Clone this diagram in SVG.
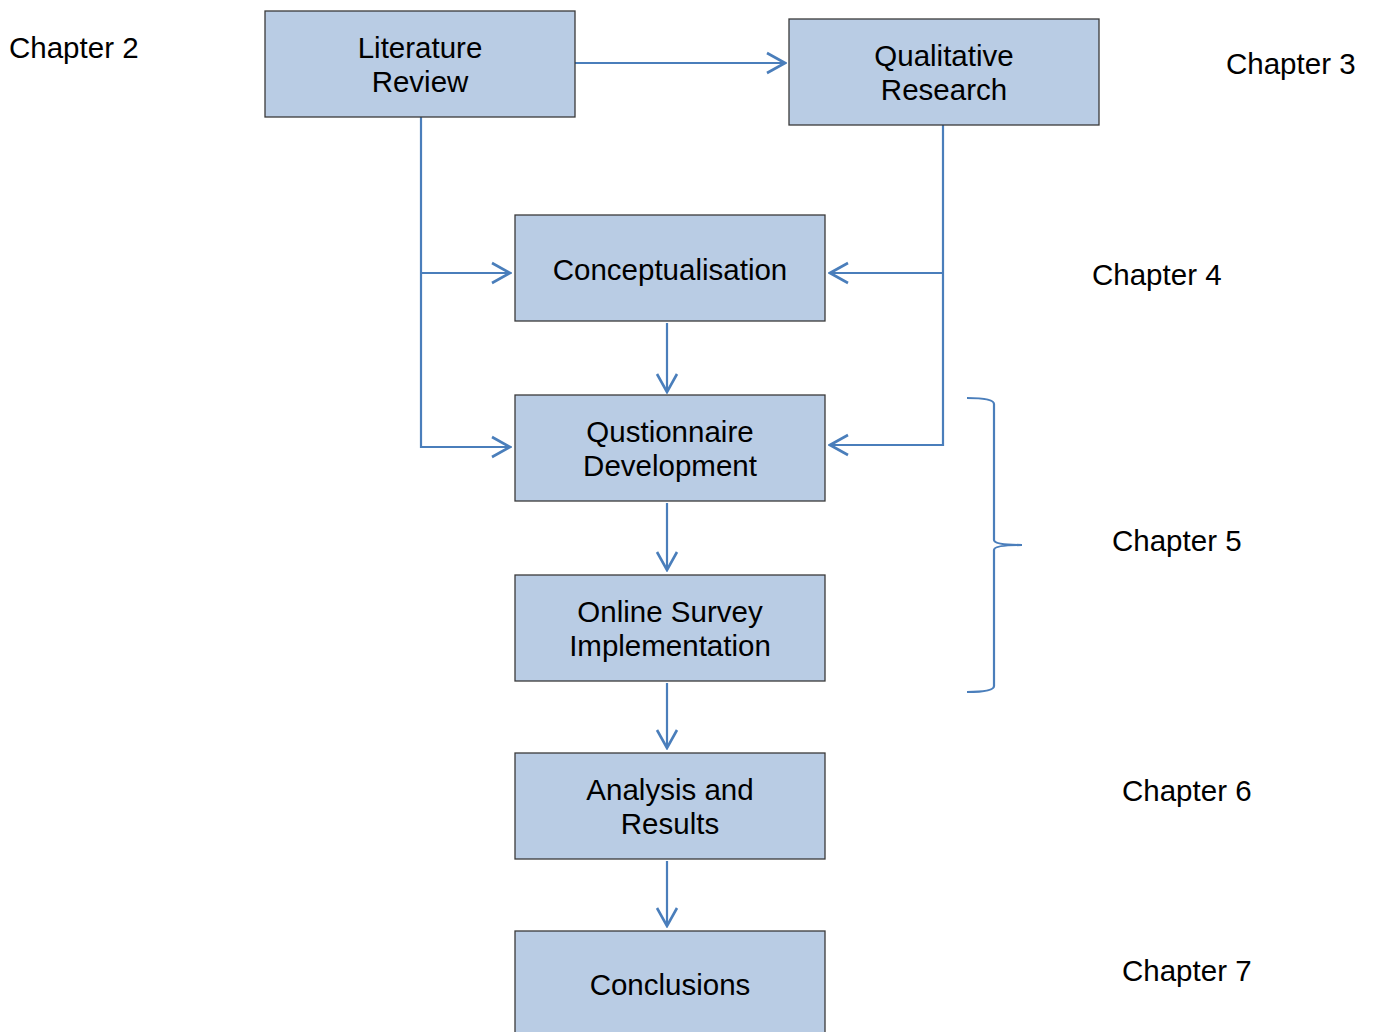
<svg xmlns="http://www.w3.org/2000/svg" width="1375" height="1032" viewBox="0 0 1375 1032">
  <style>
    .box { fill: #b9cce4; stroke: #3a3a3a; stroke-width: 1.3; }
    .lbl { font-family: "Liberation Sans", Arial, sans-serif; font-size: 29.5px; fill: #000; text-anchor: middle; }
    .ch { font-family: "Liberation Sans", Arial, sans-serif; font-size: 29.5px; fill: #000; }
    .wire { fill: none; stroke: #4a7ebb; stroke-width: 2.2; }
  </style>
  <defs>
    <marker id="open" markerWidth="22" markerHeight="24" viewBox="0 0 22 24" refX="20" refY="12" orient="auto" markerUnits="userSpaceOnUse">
      <path d="M2,2 L20,12 L2,22" fill="none" stroke="#4a7ebb" stroke-width="2.6"/>
    </marker>
  </defs>
  <rect width="1375" height="1032" fill="#fff"/>

  <g id="connectors">
    <path class="wire" d="M575,63 H785" marker-end="url(#open)"/>
    <path class="wire" d="M421,117 V447 H510" marker-end="url(#open)"/>
    <path class="wire" d="M421,273 H510" marker-end="url(#open)"/>
    <path class="wire" d="M943,125 V445 H830" marker-end="url(#open)"/>
    <path class="wire" d="M943,273 H830" marker-end="url(#open)"/>
    <path class="wire" d="M667,323 V392" marker-end="url(#open)"/>
    <path class="wire" d="M667,503 V570" marker-end="url(#open)"/>
    <path class="wire" d="M667,683 V748" marker-end="url(#open)"/>
    <path class="wire" d="M667,861 V926" marker-end="url(#open)"/>
    <path id="brace" class="wire" d="M967,398 Q994,398 994,404 V540 Q994,545 1022,545 Q994,545 994,550 V686 Q994,692 967,692"/>
  </g>

  <g id="literature-review">
    <rect class="box" x="265" y="11" width="310" height="106"/>
    <text class="lbl" x="420" y="58">Literature</text>
    <text class="lbl" x="420" y="92">Review</text>
  </g>
  <g id="qualitative-research">
    <rect class="box" x="789" y="19" width="310" height="106"/>
    <text class="lbl" x="944" y="66">Qualitative</text>
    <text class="lbl" x="944" y="100">Research</text>
  </g>
  <g id="conceptualisation">
    <rect class="box" x="515" y="215" width="310" height="106"/>
    <text class="lbl" x="670" y="280">Conceptualisation</text>
  </g>
  <g id="questionnaire-development">
    <rect class="box" x="515" y="395" width="310" height="106"/>
    <text class="lbl" x="670" y="442">Qustionnaire</text>
    <text class="lbl" x="670" y="476">Development</text>
  </g>
  <g id="online-survey">
    <rect class="box" x="515" y="575" width="310" height="106"/>
    <text class="lbl" x="670" y="622">Online Survey</text>
    <text class="lbl" x="670" y="656">Implementation</text>
  </g>
  <g id="analysis-results">
    <rect class="box" x="515" y="753" width="310" height="106"/>
    <text class="lbl" x="670" y="800">Analysis and</text>
    <text class="lbl" x="670" y="834">Results</text>
  </g>
  <g id="conclusions">
    <rect class="box" x="515" y="931" width="310" height="110"/>
    <text class="lbl" x="670" y="995">Conclusions</text>
  </g>

  <g id="chapters">
    <text class="ch" x="9" y="58">Chapter 2</text>
    <text class="ch" x="1226" y="74">Chapter 3</text>
    <text class="ch" x="1092" y="285">Chapter 4</text>
    <text class="ch" x="1112" y="551">Chapter 5</text>
    <text class="ch" x="1122" y="801">Chapter 6</text>
    <text class="ch" x="1122" y="981">Chapter 7</text>
  </g>
</svg>
